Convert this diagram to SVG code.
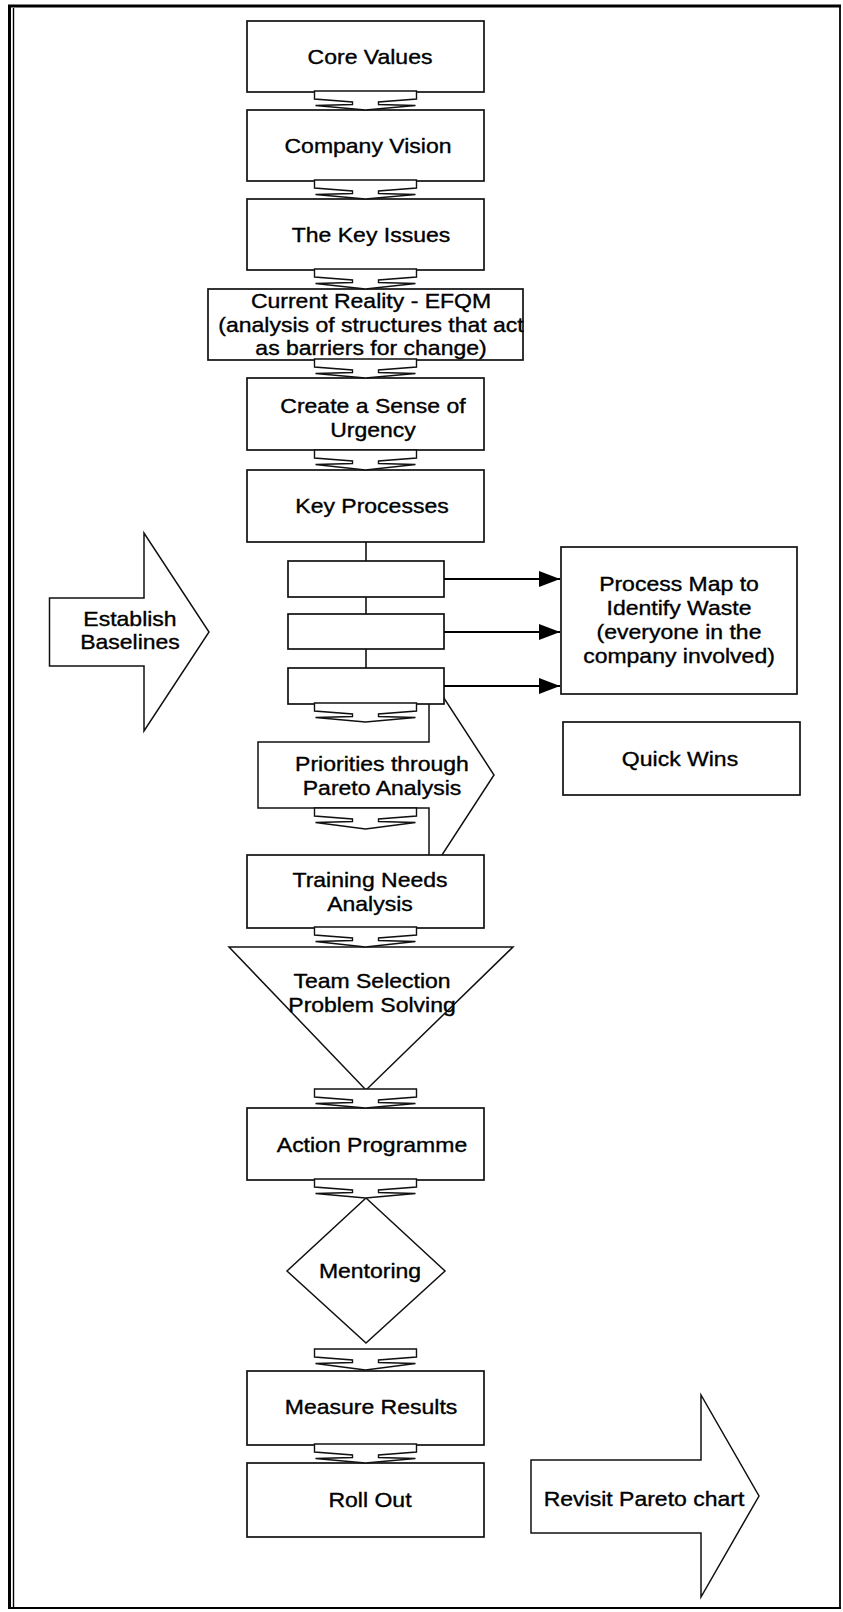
<svg xmlns="http://www.w3.org/2000/svg" width="843" height="1612" viewBox="0 0 843 1612">
  <defs>
    <style>
      .box { fill: #fff; stroke: #111; stroke-width: 1.7; }
      .shape { fill: #fff; stroke: #111; stroke-width: 1.5; stroke-linejoin: miter; }
      .conn { fill: #fff; stroke: #111; stroke-width: 1.4; stroke-linejoin: miter; }
      .link { fill: none; stroke: #111; stroke-width: 1.6; }
      .flow { fill: none; stroke: #000; stroke-width: 2.2; }
      .frame { fill: none; stroke: #000; }
      .t { font-family: "Liberation Sans", Arial, Helvetica, sans-serif; font-size: 20px; fill: #000; stroke: #000; stroke-width: 0.35; text-anchor: middle; }
    </style>
    <marker id="head" viewBox="0 0 21 16" refX="21" refY="8" markerWidth="21" markerHeight="16" markerUnits="userSpaceOnUse" orient="auto">
      <path d="M0,0 L21,8 L0,16 Z" fill="#000"/>
    </marker>
  </defs>

  <rect x="0" y="0" width="843" height="1612" fill="#fff"/>

  <!-- page frame: heavy double rule on the left, single rules elsewhere -->
  <g id="frame">
    <line class="frame" x1="9.5" y1="5" x2="9.5" y2="1609" stroke-width="3"/>
    <line class="frame" x1="13.5" y1="8" x2="13.5" y2="1607" stroke-width="1.4"/>
    <line class="frame" x1="8" y1="6" x2="841" y2="6" stroke-width="2.8"/>
    <line class="frame" x1="840" y1="5" x2="840" y2="1609" stroke-width="1.8"/>
    <line class="frame" x1="8" y1="1608" x2="841" y2="1608" stroke-width="1.8"/>
  </g>

  <!-- block arrows (drawn first so boxes overlap them) -->
  <g id="establish-baselines">
    <polygon class="shape" points="49.5,598 144,598 144,533 209,632 144,731 144,666 49.5,666"/>
    <text class="t" transform="translate(130,626) scale(1.15,1)"><tspan x="0" y="0">Establish</tspan><tspan x="0" y="23">Baselines</tspan></text>
  </g>

  <g id="priorities">
    <polygon class="shape" points="258,742 429,742 429,675 494,775 429,875 429,808 258,808"/>
    <text class="t" transform="translate(382,771) scale(1.15,1)"><tspan x="0" y="0">Priorities through</tspan><tspan x="0" y="24">Pareto Analysis</tspan></text>
  </g>

  <g id="revisit-pareto">
    <polygon class="shape" points="531,1460 701,1460 701,1395 759,1496 701,1597 701,1533 531,1533"/>
    <text class="t" transform="translate(644,1506) scale(1.15,1)">Revisit Pareto chart</text>
  </g>

  <!-- main column -->
  <g id="core-values">
    <rect class="box" x="247" y="21" width="237" height="71"/>
    <text class="t" transform="translate(370,64) scale(1.15,1)">Core Values</text>
  </g>

  <g id="company-vision">
    <rect class="box" x="247" y="110" width="237" height="71"/>
    <text class="t" transform="translate(368,153) scale(1.15,1)">Company Vision</text>
  </g>

  <g id="key-issues">
    <rect class="box" x="247" y="199" width="237" height="71"/>
    <text class="t" transform="translate(371,242) scale(1.15,1)">The Key Issues</text>
  </g>

  <g id="current-reality">
    <rect class="box" x="208" y="289" width="315" height="71"/>
    <text class="t" transform="translate(371,308) scale(1.15,1)"><tspan x="0" y="0">Current Reality - EFQM</tspan><tspan x="0" y="24">(analysis of structures that act</tspan><tspan x="0" y="47">as barriers for change)</tspan></text>
  </g>

  <g id="sense-of-urgency">
    <rect class="box" x="247" y="378" width="237" height="72"/>
    <text class="t" transform="translate(373,413) scale(1.15,1)"><tspan x="0" y="0">Create a Sense of</tspan><tspan x="0" y="24">Urgency</tspan></text>
  </g>

  <g id="key-processes">
    <rect class="box" x="247" y="470" width="237" height="72"/>
    <text class="t" transform="translate(372,513) scale(1.15,1)">Key Processes</text>
  </g>

  <g id="process-1">
    <rect class="box" x="288" y="561" width="156" height="36"/>
  </g>
  <g id="process-2">
    <rect class="box" x="288" y="614" width="156" height="35"/>
  </g>
  <g id="process-3">
    <rect class="box" x="288" y="668" width="156" height="36"/>
  </g>

  <g id="process-map">
    <rect class="box" x="561" y="547" width="236" height="147"/>
    <text class="t" transform="translate(679,591) scale(1.15,1)"><tspan x="0" y="0">Process Map to</tspan><tspan x="0" y="24">Identify Waste</tspan><tspan x="0" y="48">(everyone in the</tspan><tspan x="0" y="72">company involved)</tspan></text>
  </g>

  <g id="quick-wins">
    <rect class="box" x="563" y="722" width="237" height="73"/>
    <text class="t" transform="translate(680,766) scale(1.15,1)">Quick Wins</text>
  </g>

  <g id="training-needs">
    <rect class="box" x="247" y="855" width="237" height="73"/>
    <text class="t" transform="translate(370,887) scale(1.15,1)"><tspan x="0" y="0">Training Needs</tspan><tspan x="0" y="24">Analysis</tspan></text>
  </g>

  <g id="team-selection">
    <polygon class="shape" points="229,947 513,947 366,1090"/>
    <text class="t" transform="translate(372,988) scale(1.15,1)"><tspan x="0" y="0">Team Selection</tspan><tspan x="0" y="24">Problem Solving</tspan></text>
  </g>

  <g id="action-programme">
    <rect class="box" x="247" y="1108" width="237" height="72"/>
    <text class="t" transform="translate(372,1152) scale(1.15,1)">Action Programme</text>
  </g>

  <g id="mentoring">
    <polygon class="shape" points="366,1198 445,1271 366,1343 287,1271"/>
    <text class="t" transform="translate(370,1278) scale(1.15,1)">Mentoring</text>
  </g>

  <g id="measure-results">
    <rect class="box" x="247" y="1371" width="237" height="74"/>
    <text class="t" transform="translate(371,1414) scale(1.15,1)">Measure Results</text>
  </g>

  <g id="roll-out">
    <rect class="box" x="247" y="1463" width="237" height="74"/>
    <text class="t" transform="translate(370,1507) scale(1.15,1)">Roll Out</text>
  </g>

  <!-- connectors: flat notched down-arrows between steps, plus the process branch lines -->
  <g id="connectors">
    <!-- notched arrow outline, 102 wide, about 20 high, origin at top centre -->
    <polygon class="conn" transform="translate(365.5,91)" points="-51,0 51,0 51,8 13,11 13,13.5 50,14.5 0,19 -50,14.5 -13,13.5 -13,11 -51,8"/>
    <polygon class="conn" transform="translate(365.5,180)" points="-51,0 51,0 51,8 13,11 13,13.5 50,14.5 0,19 -50,14.5 -13,13.5 -13,11 -51,8"/>
    <polygon class="conn" transform="translate(365.5,269)" points="-51,0 51,0 51,8 13,11 13,13.5 50,14.5 0,20 -50,14.5 -13,13.5 -13,11 -51,8"/>
    <polygon class="conn" transform="translate(365.5,359)" points="-51,0 51,0 51,8 13,11 13,13.5 50,14.5 0,19 -50,14.5 -13,13.5 -13,11 -51,8"/>
    <polygon class="conn" transform="translate(365.5,450)" points="-51,0 51,0 51,8 13,11 13,13.5 50,14.5 0,20 -50,14.5 -13,13.5 -13,11 -51,8"/>
    <polygon class="conn" transform="translate(365.5,703)" points="-51,0 51,0 51,8 13,11 13,13.5 50,14.5 0,19 -50,14.5 -13,13.5 -13,11 -51,8"/>
    <polygon class="conn" transform="translate(365.5,808)" points="-51,0 51,0 51,8 13,11 13,13.5 50,14.5 0,21 -50,14.5 -13,13.5 -13,11 -51,8"/>
    <polygon class="conn" transform="translate(365.5,927)" points="-51,0 51,0 51,8 13,11 13,13.5 50,14.5 0,20 -50,14.5 -13,13.5 -13,11 -51,8"/>
    <polygon class="conn" transform="translate(365.5,1089)" points="-51,0 51,0 51,8 13,11 13,13.5 50,14.5 0,19 -50,14.5 -13,13.5 -13,11 -51,8"/>
    <polygon class="conn" transform="translate(365.5,1179)" points="-51,0 51,0 51,8 13,11 13,13.5 50,14.5 0,19 -50,14.5 -13,13.5 -13,11 -51,8"/>
    <polygon class="conn" transform="translate(365.5,1349)" points="-51,0 51,0 51,8 13,11 13,13.5 50,14.5 0,21 -50,14.5 -13,13.5 -13,11 -51,8"/>
    <polygon class="conn" transform="translate(365.5,1444)" points="-51,0 51,0 51,8 13,11 13,13.5 50,14.5 0,19 -50,14.5 -13,13.5 -13,11 -51,8"/>

    <!-- trunk from Key Processes down through the process boxes -->
    <line class="link" x1="366" y1="542" x2="366" y2="561"/>
    <line class="link" x1="366" y1="597" x2="366" y2="614"/>
    <line class="link" x1="366" y1="649" x2="366" y2="668"/>

    <!-- branches into the process map -->
    <line class="flow" x1="444" y1="579" x2="560" y2="579" marker-end="url(#head)"/>
    <line class="flow" x1="444" y1="632" x2="560" y2="632" marker-end="url(#head)"/>
    <line class="flow" x1="444" y1="686" x2="560" y2="686" marker-end="url(#head)"/>
  </g>
</svg>
